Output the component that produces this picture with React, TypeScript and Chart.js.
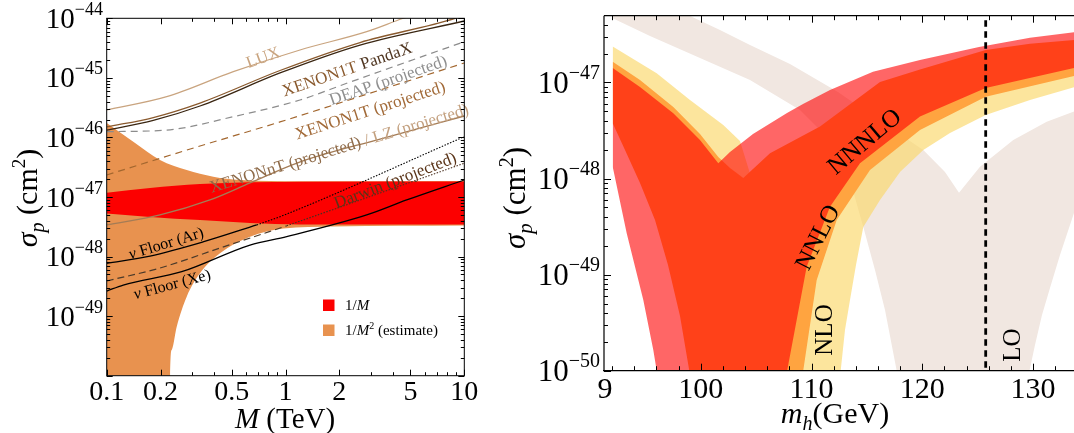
import React, { useEffect, useRef } from "react";
import { Chart, registerables } from "chart.js";

Chart.register(...registerables);

const SERIF = '"Liberation Serif", "Times New Roman", serif';

/* ================= Left panel: sigma_p vs M (TeV) ================= */
const massTicks = [0.1, 0.2, 0.5, 1, 2, 5, 10];
const massTickLabels = ["0.1", "0.2", "0.5", "1", "2", "5", "10"];
const massMinorTicks = [0.3, 0.4, 0.6, 0.7, 0.8, 0.9, 3, 4, 6, 7, 8, 9];
const leftDecades = [-44, -45, -46, -47, -48, -49, -50];
const leftDecadeLabels = ["−44", "−45", "−46", "−47", "−48", "−49", ""];
const minorFactors = [2, 3, 4, 5, 6, 7, 8, 9];

const luxMass = [0.1, 0.2166, 0.5106, 1.2051, 2.8453, 4.558, 6.0];
const luxSigma = [2.89e-46, 4.83e-46, 1.27e-45, 2.94e-45, 5.96e-45, 1.0e-44, 1.3e-44];

const xenon1tMass = [0.1, 0.1822, 0.3325, 0.9316, 2.6115, 10];
const xenon1tSigma = [1.33e-46, 1.93e-46, 3.37e-46, 1.21e-45, 3.56e-45, 9.01e-45];

const pandaxMass = [0.1, 0.1822, 0.3325, 0.9316, 2.6115, 8.87, 10];
const pandaxSigma = [1.5e-46, 2.16e-46, 3.78e-46, 1.33e-45, 3.92e-45, 1.0e-44, 1.15e-44];

const deapMass = [0.1, 0.2166, 0.5106, 1.2051, 2.1994, 10];
const deapSigma = [1.25e-46, 1.33e-46, 2.23e-46, 4.25e-46, 8.11e-46, 4.05e-45];

const xenon1tProjMass = [0.1, 0.3325, 0.9316, 3.3774, 10];
const xenon1tProjSigma = [2.34e-47, 7.18e-47, 1.82e-46, 6.26e-46, 1.78e-45];

const xenonntLzMass = [0.1, 0.1987, 0.3781, 0.6332, 1.1595, 3.3774, 10];
const xenonntLzSigma = [3.39e-48, 4.99e-48, 8.91e-48, 1.72e-47, 3.72e-47, 9.41e-47, 2.29e-46];

const floorArMass = [0.1, 0.1747, 0.3455, 0.6903];
const floorArSigma = [7.71e-49, 1.02e-48, 1.76e-48, 3.39e-48];
const darwinMass = [0.6903, 0.9316, 10];
const darwinSigma = [3.39e-48, 4.67e-48, 1.03e-46];

const dashedFloorMass = [0.1, 0.1987, 0.4302, 1.0155];
const dashedFloorSigma = [3.89e-49, 6.43e-49, 1.39e-48, 3.28e-48];
const dottedProjMass = [1.0155, 10];
const dottedProjSigma = [3.28e-48, 3.68e-47];

const floorXeMass = [0.1, 0.1238, 0.2628, 0.6332, 1.0155, 2.8453, 4.7643, 10];
const floorXeSigma = [2.64e-49, 3.33e-49, 5.57e-49, 1.56e-48, 2.16e-48, 4.99e-48, 8.91e-48, 1.93e-47];

const invMBandMass = [0.1, 0.1747, 0.3325, 1.2051, 10];
const invMBandUpper = [1.18e-47, 1.42e-47, 1.65e-47, 1.81e-47, 1.82e-47];
const invMBandLower = [5.29e-48, 4.62e-48, 4.11e-48, 3.45e-48, 3.45e-48];

const invM2UpperMass = [0.1, 0.1441, 0.1987, 0.2802, 0.3947, 0.5567, 1.2051, 10];
const invM2UpperSigma = [1.75e-46, 8.06e-47, 4.18e-47, 2.84e-47, 2.19e-47, 1.93e-47, 1.84e-47, 1.86e-47];
const invM2LowerMass = [0.1, 0.2255, 0.2262, 0.231, 0.2464, 0.2802, 0.3325, 0.4302, 0.6332, 0.972, 1.8443, 10];
const invM2LowerSigma = [1e-56, 1e-56, 1.0e-50, 2.7e-50, 6.65e-50, 2.12e-49, 5.24e-49, 1.14e-48, 2.16e-48, 2.96e-48, 3.2e-48, 3.32e-48];

/* ================= Right panel: sigma_p vs m_h (GeV) ================= */
const higgsTicks = [91.27, 100, 110, 120, 130];
const higgsTickLabels = ["9", "100", "110", "120", "130"];
const higgsMinorTicks = [92, 94, 96, 98, 102, 104, 106, 108, 112, 114, 116, 118, 122, 124, 126, 128, 132];
const rightDecades = [-47, -48, -49, -50];
const rightDecadeLabels = ["−47", "−48", "−49", "−50"];
const higgsMassMeasured = 125.72;

const loUpperM = [92.055, 95.422, 98.996, 101.739, 104.447, 108.057, 112.389, 116.181, 120.089, 122.047, 123.311, 125.206, 128.211, 131.225, 133.69];
const loUpperS = [1.48e-46, 8.15e-47, 4.95e-47, 3.52e-47, 2.45e-47, 1.56e-47, 7.97e-48, 3.97e-48, 1.98e-48, 1.17e-48, 7.13e-49, 1.33e-48, 2.52e-48, 3.91e-48, 4.97e-48];
const loLowerM = [92.055, 95.422, 99.934, 104.447, 108.96, 111.667, 113.473, 114.673, 115.729, 116.632, 117.688, 117.7, 129.66, 129.673, 130.169, 130.801, 131.523, 132.426, 133.69];
const loLowerS = [4.66e-47, 3.05e-47, 1.8e-47, 1.06e-47, 5.18e-48, 2.52e-48, 9.66e-49, 3.13e-49, 1.12e-49, 4.29e-50, 1e-50, 1e-56, 1e-56, 1e-50, 1.85e-50, 3.8e-50, 7.26e-50, 1.6e-49, 4.38e-49];

const nloUpperM = [92.055, 96.026, 99.032, 102.037, 103.544, 104.627, 105.801, 107.154, 108.96, 110.765, 113.473, 119.791, 125.72, 133.69];
const nloUpperS = [2.36e-47, 1.25e-47, 6.57e-48, 3.61e-48, 2.46e-48, 9.66e-49, 5.98e-49, 4.71e-49, 9.66e-49, 1.64e-48, 2.84e-48, 5.83e-48, 1.06e-47, 1.71e-47];
const nloLowerM = [92.055, 96.324, 99.934, 102.642, 103.608, 103.62, 112.62, 112.633, 113.021, 113.473, 114.014, 114.673, 116.181, 117.986, 120.089, 122.498, 125.72, 129.718, 133.69];
const nloLowerS = [8.36e-48, 1.98e-48, 3.71e-49, 5.45e-50, 1e-50, 1e-56, 1e-56, 1e-50, 2.65e-50, 5.45e-50, 1.26e-49, 3.13e-49, 5.98e-49, 1.17e-48, 1.98e-48, 2.98e-48, 4.59e-48, 6.57e-48, 8.91e-48];

const nnloUpperM = [92.055, 94.519, 97.525, 99.934, 101.586, 102.642, 103.842, 106.252, 110.765, 116.181, 119.791, 125.72, 129.718, 133.69];
const nnloUpperS = [1.64e-47, 1.06e-47, 5.56e-48, 2.91e-48, 1.68e-48, 1.29e-48, 1.01e-48, 1.83e-48, 3.47e-48, 1.01e-47, 1.36e-47, 2.18e-47, 2.52e-47, 2.77e-47];
const nnloLowerM = [92.055, 93.165, 94.519, 95.873, 97.046, 98.129, 98.968, 98.98, 109.15, 109.25, 110.467, 112.272, 115.278, 119.791, 125.72, 133.69];
const nnloLowerS = [3.76e-48, 1.98e-48, 8.99e-49, 3.71e-49, 1.26e-49, 3.71e-50, 1e-50, 1e-56, 1e-56, 1e-50, 8.79e-50, 3.71e-49, 1.23e-48, 3.2e-48, 7.11e-48, 1.17e-47];

const nnnloUpperM = [92.055, 94.519, 97.525, 99.934, 101.586, 102.642, 104.718, 107.787, 109.231, 111.667, 115.548, 119.791, 125.115, 129.718, 133.69];
const nnnloUpperS = [1.41e-47, 8.97e-48, 4.78e-48, 2.52e-48, 1.44e-48, 1.89e-48, 2.91e-48, 4.81e-48, 5.97e-48, 8.36e-48, 1.29e-47, 1.71e-47, 2.34e-47, 2.91e-47, 3.33e-47];
const nnnloLowerM = [92.055, 93.319, 94.817, 95.719, 96.026, 96.05, 107.75, 107.8, 109.564, 111.667, 114.375, 119.791, 125.72, 133.69];
const nnnloLowerS = [1.33e-48, 2.69e-49, 5.45e-50, 1.64e-50, 1e-50, 1e-56, 1e-56, 1e-50, 1.21e-49, 5.1e-49, 1.44e-48, 4.41e-48, 8.77e-48, 1.41e-47];

/* ================= helpers ================= */
type Pt = { x: number; y: number };
const zip = (xs: number[], ys: number[]): Pt[] => xs.map((x, i) => ({ x, y: ys[i] }));

type Part = { t: string; size: number; italic?: boolean; color?: string; dy?: number };
const fontOf = (p: Part) => `${p.italic ? "italic " : ""}${p.size}px ${SERIF}`;

function drawRich(
  ctx: CanvasRenderingContext2D,
  parts: Part[],
  cx: number,
  cy: number,
  angleDeg = 0,
  align: "center" | "left" | "right" = "center",
  color = "#000"
) {
  ctx.save();
  ctx.translate(cx, cy);
  ctx.rotate((angleDeg * Math.PI) / 180);
  ctx.textAlign = "left";
  ctx.textBaseline = "alphabetic";
  let total = 0;
  const widths = parts.map((p) => {
    ctx.font = fontOf(p);
    const w = ctx.measureText(p.t).width;
    total += w;
    return w;
  });
  let x = align === "center" ? -total / 2 : align === "right" ? -total : 0;
  const main = Math.max(...parts.map((p) => p.size));
  const base = main * 0.33;
  parts.forEach((p, i) => {
    ctx.font = fontOf(p);
    ctx.fillStyle = p.color || color;
    ctx.fillText(p.t, x, base + (p.dy || 0));
    x += widths[i];
  });
  ctx.restore();
}

function lineDs(data: Pt[], color: string, width: number, dash: number[] = [], smooth = true) {
  return {
    data,
    borderColor: color,
    borderWidth: width,
    borderDash: dash,
    pointRadius: 0,
    fill: false,
    tension: 0,
    cubicInterpolationMode: smooth ? "monotone" : "default",
  };
}

function addBand(list: any[], upper: Pt[], lower: Pt[], color: string, smooth = false) {
  const idx = list.length;
  const mode = smooth ? "monotone" : "default";
  list.push({ data: upper, fill: idx + 1, backgroundColor: color, borderWidth: 0, pointRadius: 0, tension: 0, cubicInterpolationMode: mode });
  list.push({ data: lower, fill: false, borderWidth: 0, pointRadius: 0, tension: 0, cubicInterpolationMode: mode });
}

function withOrder(list: any[]) {
  // later entries are drawn on top
  return list.map((d, k) => ({ ...d, order: 1000 - k }));
}

/* ================= plugins ================= */
const leftAxesPlugin = {
  id: "leftAxes",
  afterDatasetsDraw(chart: any) {
    const { ctx, chartArea: a, scales } = chart;
    const xs = scales.x;
    const ys = scales.y;
    ctx.save();

    // curve labels
    drawRich(ctx, [{ t: "LUX", size: 17, color: "#c9a47f" }], 263, 57, -20);
    drawRich(
      ctx,
      [
        { t: "XENON1T ", size: 17, color: "#8a5a2e" },
        { t: "PandaX", size: 17, color: "#4f3520" },
      ],
      347,
      69,
      -19
    );
    drawRich(ctx, [{ t: "DEAP (projected)", size: 17, color: "#8f8f8f" }], 388, 80, -19);
    drawRich(ctx, [{ t: "XENON1T (projected)", size: 17, color: "#a26a38" }], 370, 110, -18);
    drawRich(
      ctx,
      [
        { t: "XENONnT (projected) ", size: 17, color: "#8e6a48" },
        { t: "/ LZ (projected)", size: 17, color: "#c3a07f" },
      ],
      339,
      148,
      -17
    );
    drawRich(ctx, [{ t: "Darwin (projected)", size: 17, color: "#5a3418" }], 395, 180, -21);
    drawRich(
      ctx,
      [
        { t: "ν", size: 16, italic: true },
        { t: " Floor (Ar)", size: 16 },
      ],
      166,
      243,
      -17
    );
    drawRich(
      ctx,
      [
        { t: "ν", size: 16, italic: true },
        { t: " Floor (Xe)", size: 16 },
      ],
      172,
      284,
      -15
    );

    // legend
    ctx.fillStyle = "#fc0000";
    ctx.fillRect(323, 299.5, 11.5, 11.5);
    ctx.fillStyle = "#e8924f";
    ctx.fillRect(323, 324.5, 11.5, 11.5);
    drawRich(ctx, [{ t: "1/", size: 15 }, { t: "M", size: 15, italic: true }], 345, 305, 0, "left");
    drawRich(
      ctx,
      [
        { t: "1/", size: 15 },
        { t: "M", size: 15, italic: true },
        { t: "2", size: 10, dy: -6 },
        { t: " (estimate)", size: 15 },
      ],
      345,
      330,
      0,
      "left"
    );

    // frame
    ctx.strokeStyle = "#000";
    ctx.lineWidth = 1;
    ctx.strokeRect(a.left, a.top, a.right - a.left, a.bottom - a.top);

    // x ticks
    const xTick = (v: number, len: number) => {
      const px = Math.round(xs.getPixelForValue(v)) + 0.5;
      ctx.beginPath();
      ctx.moveTo(px, a.bottom);
      ctx.lineTo(px, a.bottom - len);
      ctx.moveTo(px, a.top);
      ctx.lineTo(px, a.top + len);
      ctx.stroke();
    };
    massTicks.forEach((v) => xTick(v, 6));
    massMinorTicks.forEach((v) => xTick(v, 3.5));

    // y ticks
    const yTick = (v: number, len: number) => {
      const py = Math.round(ys.getPixelForValue(v)) + 0.5;
      ctx.beginPath();
      ctx.moveTo(a.left, py);
      ctx.lineTo(a.left + len, py);
      ctx.moveTo(a.right, py);
      ctx.lineTo(a.right - len, py);
      ctx.stroke();
    };
    leftDecades.forEach((d) => {
      yTick(Math.pow(10, d), 6);
      if (d > -50) minorFactors.forEach((f) => yTick(f * Math.pow(10, d - 1), 3.5));
    });

    // tick labels
    massTicks.forEach((v, i) => {
      drawRich(ctx, [{ t: massTickLabels[i], size: 28 }], xs.getPixelForValue(v), 391, 0, "center");
    });
    leftDecades.forEach((d, i) => {
      if (!leftDecadeLabels[i]) return;
      drawRich(
        ctx,
        [
          { t: "10", size: 29 },
          { t: leftDecadeLabels[i], size: 18, dy: -13 },
        ],
        103,
        ys.getPixelForValue(Math.pow(10, d)),
        0,
        "right"
      );
    });

    // axis titles
    drawRich(
      ctx,
      [
        { t: "M", size: 29, italic: true },
        { t: " (TeV)", size: 29 },
      ],
      285,
      418,
      0
    );
    drawRich(
      ctx,
      [
        { t: "σ", size: 30, italic: true },
        { t: "p", size: 20, italic: true, dy: 7 },
        { t: " (cm", size: 30 },
        { t: "2", size: 19, dy: -12 },
        { t: ")", size: 30 },
      ],
      27,
      198,
      -90
    );
    ctx.restore();
  },
};

const RIGHT_OFFSET = 480;

const rightAxesPlugin = {
  id: "rightAxes",
  afterDatasetsDraw(chart: any) {
    const { ctx, chartArea: a, scales } = chart;
    const xs = scales.x;
    const ys = scales.y;
    const o = RIGHT_OFFSET;
    ctx.save();

    // band labels
    drawRich(ctx, [{ t: "NNNLO", size: 25 }], 864 - o, 141, -40);
    drawRich(ctx, [{ t: "NNLO", size: 25 }], 817 - o, 237, -63);
    drawRich(ctx, [{ t: "NLO", size: 25 }], 824 - o, 330, -90);
    drawRich(ctx, [{ t: "LO", size: 25 }], 1012 - o, 345, -90);

    // frame lines
    ctx.strokeStyle = "#000";
    ctx.lineWidth = 1.2;
    ctx.beginPath();
    ctx.moveTo(a.left, a.top);
    ctx.lineTo(a.left, a.bottom);
    ctx.moveTo(a.left, a.top);
    ctx.lineTo(a.right, a.top);
    ctx.moveTo(a.left - 1, a.bottom);
    ctx.lineTo(a.right, a.bottom);
    ctx.stroke();
    ctx.lineWidth = 1;

    const xTick = (v: number, len: number) => {
      const px = Math.round(xs.getPixelForValue(v)) + 0.5;
      ctx.beginPath();
      ctx.moveTo(px, a.bottom);
      ctx.lineTo(px, a.bottom - len);
      ctx.moveTo(px, a.top);
      ctx.lineTo(px, a.top + len);
      ctx.stroke();
    };
    higgsTicks.slice(1).forEach((v) => xTick(v, 7));
    higgsMinorTicks.forEach((v) => xTick(v, 4.5));

    const yTick = (v: number, len: number) => {
      const py = Math.round(ys.getPixelForValue(v)) + 0.5;
      if (py < a.top || py > a.bottom + 1) return;
      ctx.beginPath();
      ctx.moveTo(a.left, py);
      ctx.lineTo(a.left + len, py);
      ctx.stroke();
    };
    rightDecades.forEach((d) => {
      yTick(Math.pow(10, d), 7);
      minorFactors.forEach((f) => yTick(f * Math.pow(10, d), 4));
    });

    higgsTicks.forEach((v, i) => {
      const px = i === 0 ? xs.getPixelForValue(v) + 1 : xs.getPixelForValue(v);
      drawRich(ctx, [{ t: higgsTickLabels[i], size: 30 }], px, 388, 0, "center");
    });
    rightDecades.forEach((d, i) => {
      drawRich(
        ctx,
        [
          { t: "10", size: 31 },
          { t: rightDecadeLabels[i], size: 20, dy: -14 },
        ],
        600 - o,
        ys.getPixelForValue(Math.pow(10, d)),
        0,
        "right"
      );
    });

    drawRich(
      ctx,
      [
        { t: "m", size: 30, italic: true },
        { t: "h", size: 20, italic: true, dy: 7 },
        { t: "(GeV)", size: 30 },
      ],
      835 - o,
      413,
      0
    );
    drawRich(
      ctx,
      [
        { t: "σ", size: 31, italic: true },
        { t: "p", size: 21, italic: true, dy: 7 },
        { t: " (cm", size: 31 },
        { t: "2", size: 20, dy: -12 },
        { t: ")", size: 31 },
      ],
      515 - o,
      198,
      -90
    );
    ctx.restore();
  },
};

/* ================= charts ================= */
function buildLeft(canvas: HTMLCanvasElement) {
  const ds: any[] = [];
  addBand(ds, zip(invM2UpperMass, invM2UpperSigma), zip(invM2LowerMass, invM2LowerSigma), "#e8924f", true);
  addBand(ds, zip(invMBandMass, invMBandUpper), zip(invMBandMass, invMBandLower), "#fc0000", true);
  ds.push(lineDs(zip(luxMass, luxSigma), "#c9a47f", 1.2));
  ds.push(lineDs(zip(pandaxMass, pandaxSigma), "#8a5a2e", 1.3));
  ds.push(lineDs(zip(xenon1tMass, xenon1tSigma), "#3a2612", 1.3));
  ds.push(lineDs(zip(deapMass, deapSigma), "#8c8c8c", 1.2, [7, 5]));
  ds.push(lineDs(zip(xenon1tProjMass, xenon1tProjSigma), "#a3672f", 1.2, [7, 5]));
  ds.push(lineDs(zip(xenonntLzMass, xenonntLzSigma), "#a47c56", 1.3));
  ds.push(lineDs(zip(floorArMass, floorArSigma), "#000000", 1.3));
  ds.push(lineDs(zip(darwinMass, darwinSigma), "#000000", 1.1, [1.5, 1.5]));
  ds.push(lineDs(zip(dashedFloorMass, dashedFloorSigma), "#4a3a2a", 1.2, [7, 4]));
  ds.push(lineDs(zip(dottedProjMass, dottedProjSigma), "#4a3020", 1.1, [1.5, 1.5]));
  ds.push(lineDs(zip(floorXeMass, floorXeSigma), "#000000", 1.3));

  return new Chart(canvas, {
    type: "line",
    data: { datasets: withOrder(ds) },
    options: {
      animation: false,
      responsive: false,
      events: [],
      layout: { padding: { left: 106.7, right: 480 - 464.3, top: 18.3, bottom: 433 - 375.7 } },
      scales: {
        x: { type: "logarithmic", min: 0.1, max: 10, display: false },
        y: { type: "logarithmic", min: 1e-50, max: 1e-44, display: false },
      },
      plugins: { legend: { display: false }, tooltip: { enabled: false } },
    },
    plugins: [leftAxesPlugin],
  } as any);
}

function buildRight(canvas: HTMLCanvasElement) {
  const ds: any[] = [];
  addBand(ds, zip(loUpperM, loUpperS), zip(loLowerM, loLowerS), "#f1e7e1");
  addBand(ds, zip(nloUpperM, nloUpperS), zip(nloLowerM, nloLowerS), "rgba(250,215,105,0.65)");
  addBand(ds, zip(nnloUpperM, nnloUpperS), zip(nnloLowerM, nnloLowerS), "#ffa440");
  addBand(ds, zip(nnnloUpperM, nnnloUpperS), zip(nnnloLowerM, nnnloLowerS), "rgba(255,0,0,0.6)");
  ds.push(
    lineDs(
      [
        { x: higgsMassMeasured, y: 1e-51 },
        { x: higgsMassMeasured, y: 1e-45 },
      ],
      "#000000",
      2.8,
      [6.5, 4.5],
      false
    )
  );

  return new Chart(canvas, {
    type: "line",
    data: { datasets: withOrder(ds) },
    options: {
      animation: false,
      responsive: false,
      events: [],
      layout: { padding: { left: 604 - RIGHT_OFFSET, right: 0, top: 15.7, bottom: 433 - 370.7 } },
      scales: {
        x: { type: "linear", min: 91.27, max: 133.69, display: false },
        y: { type: "logarithmic", min: 1e-50, max: 4.95e-47, display: false },
      },
      plugins: { legend: { display: false }, tooltip: { enabled: false } },
    },
    plugins: [rightAxesPlugin],
  } as any);
}

export default function App() {
  const leftRef = useRef<HTMLCanvasElement>(null);
  const rightRef = useRef<HTMLCanvasElement>(null);

  useEffect(() => {
    const l = leftRef.current ? buildLeft(leftRef.current) : null;
    const r = rightRef.current ? buildRight(rightRef.current) : null;
    return () => {
      l && l.destroy();
      r && r.destroy();
    };
  }, []);

  const rightW = 1074 - RIGHT_OFFSET;
  return (
    <div style={{ position: "absolute", left: 0, top: 0, width: 1074, height: 433, background: "#fff", overflow: "hidden" }}>
      <canvas
        ref={leftRef}
        width={480}
        height={433}
        style={{ position: "absolute", left: 0, top: 0, width: 480, height: 433 }}
      />
      <canvas
        ref={rightRef}
        width={rightW}
        height={433}
        style={{ position: "absolute", left: RIGHT_OFFSET, top: 0, width: rightW, height: 433 }}
      />
    </div>
  );
}
